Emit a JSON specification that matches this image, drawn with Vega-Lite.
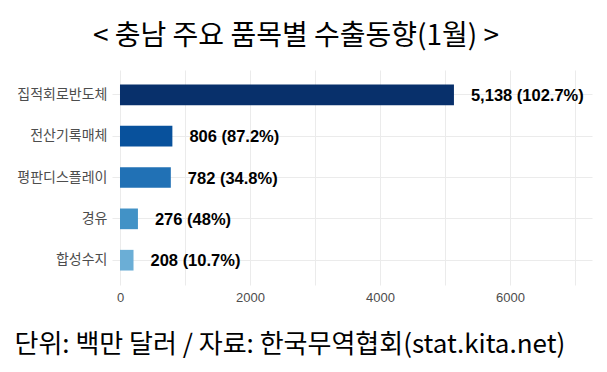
{
  "$schema": "https://vega.github.io/schema/vega-lite/v6.json",
  "autosize": {"type": "none"},
  "width": 480,
  "height": 215,
  "padding": {"left": 112, "right": 15, "top": 70, "bottom": 87},
  "background": "white",
  "config": {"view": {"stroke": null}},
  "title": {
    "text": "< 충남 주요 품목별 수출동향(1월) >",
    "font": "Noto Sans CJK KR",
    "fontSize": 28,
    "fontWeight": "normal",
    "color": "#000000",
    "anchor": "middle",
    "frame": "group",
    "dx": -56,
    "offset": 19
  },
  "data": {
    "values": [
      {"item": "집적회로반도체", "value": 5138, "growth": 102.7},
      {"item": "전산기록매체", "value": 806, "growth": 87.2},
      {"item": "평판디스플레이", "value": 782, "growth": 34.8},
      {"item": "경유", "value": 276, "growth": 48},
      {"item": "합성수지", "value": 208, "growth": 10.7}
    ]
  },
  "transform": [
    {"calculate": "format(datum.value, ',') + ' (' + datum.growth + '%)'", "as": "label"}
  ],
  "encoding": {
    "y": {
      "field": "item",
      "type": "nominal",
      "sort": "-x",
      "scale": {"paddingInner": 0.5, "paddingOuter": 0.35},
      "axis": {
        "title": null,
        "domain": false,
        "ticks": false,
        "labelFont": "Noto Sans CJK KR",
        "labelFontSize": 14,
        "labelColor": "#4d4d4d",
        "labelPadding": 5,
        "grid": true,
        "bandPosition": 0.5,
        "gridColor": "#ebebeb",
        "gridWidth": 1
      }
    },
    "x": {
      "field": "value",
      "type": "quantitative",
      "scale": {"domain": [-123, 7262], "nice": false, "zero": false},
      "axis": {
        "values": [0, 1000, 2000, 3000, 4000, 5000, 6000, 7000],
        "labelExpr": "datum.value % 2000 === 0 ? datum.value : ''",
        "format": "d",
        "domain": false,
        "ticks": false,
        "labelFont": "Liberation Sans",
        "labelFontSize": 13,
        "labelColor": "#4d4d4d",
        "labelPadding": 6,
        "gridColor": "#ebebeb",
        "gridWidth": 1,
        "title": "단위: 백만 달러 / 자료: 한국무역협회(stat.kita.net)",
        "titleFont": "Noto Sans CJK KR",
        "titleFontSize": 26,
        "titleFontWeight": "normal",
        "titleColor": "#000000",
        "titleAnchor": "start",
        "titleAlign": "left",
        "titleBaseline": "middle",
        "titleX": -98,
        "titleY": 59
      }
    }
  },
  "layer": [
    {
      "mark": {"type": "bar"},
      "encoding": {
        "color": {
          "field": "item",
          "type": "nominal",
          "scale": {
            "domain": ["집적회로반도체", "전산기록매체", "평판디스플레이", "경유", "합성수지"],
            "range": ["#08306b", "#08519c", "#2171b5", "#4292c6", "#6baed6"]
          },
          "legend": null
        }
      }
    },
    {
      "mark": {
        "type": "text",
        "align": "left",
        "baseline": "middle",
        "dx": 17,
        "dy": 1,
        "font": "Liberation Sans",
        "fontSize": 16.5,
        "fontWeight": "bold",
        "color": "#000000"
      },
      "encoding": {"text": {"field": "label"}}
    }
  ]
}
